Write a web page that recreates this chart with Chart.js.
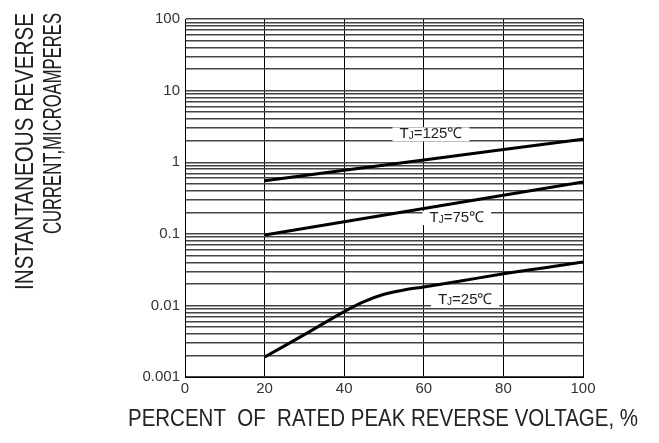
<!DOCTYPE html>
<html>
<head>
<meta charset="utf-8">
<script src="https://cdn.jsdelivr.net/npm/chart.js@4.4.0/dist/chart.umd.min.js"></script>
<style>
  html, body { margin: 0; padding: 0; background: #fff; }
  #wrap { width: 659px; height: 443px; }
</style>
</head>
<body>
<div id="wrap"><canvas id="chart" width="659" height="443"></canvas></div>
<script>
// reverse current vs. percent of rated peak reverse voltage (log y)
const xTickValues = [0, 20, 40, 60, 80, 100];
const yDecades = [0.001, 0.01, 0.1, 1, 10, 100];
const yDecadeLabels = ['0.001', '0.01', '0.1', '1', '10', '100'];

const temps = ['125', '75', '25'];

const voltLines = [20, 40, 60, 80, 100];
const current125 = [0.55, 0.77, 1.07, 1.5, 2.1];
const current75 = [0.096, 0.147, 0.226, 0.346, 0.53];

const volt25 = [20, 30, 40, 45, 50, 55, 60, 70, 80, 90, 100];
const current25 = [0.0019, 0.0039, 0.0082, 0.0113, 0.0143, 0.0164, 0.0181, 0.0223, 0.0276, 0.0334, 0.0404];

// where each curve's label sits (data coords)
const labelSpots = [
  { x: 61.8, y: 2.45 },
  { x: 68.3, y: 0.166 },
  { x: 70.4, y: 0.0119 }
];

const xTitle = 'PERCENT  OF  RATED PEAK REVERSE VOLTAGE, %';
const yTitle1 = 'INSTANTANEOUS REVERSE';
const yTitle2 = 'CURRENT,MICROAMPERES';

const FONT = '"Liberation Sans", Arial, sans-serif';

function pts(xs, ys){ return xs.map((x, i) => ({ x: x, y: ys[i] })); }

// minor log gridlines 1..9 per decade
function logGridTicks(){
  const out = [];
  for (let d = 0; d < yDecades.length - 1; d++) {
    for (let m = 1; m < 10; m++) out.push({ value: yDecades[d] * m });
  }
  out.push({ value: yDecades[yDecades.length - 1] });
  return out;
}

function drawSqueezed(ctx, text, width){
  const w = ctx.measureText(text).width;
  ctx.scale(width / w, 1);
  ctx.fillText(text, 0, 0);
}

const overlay = {
  id: 'overlay',
  afterDraw(chart){
    const ctx = chart.ctx;
    const xs = chart.scales.x, ys = chart.scales.y;

    // curve labels with white backing
    temps.forEach((t, i) => {
      const px = xs.getPixelForValue(labelSpots[i].x);
      const py = ys.getPixelForValue(labelSpots[i].y);
      ctx.save();
      ctx.font = '15px ' + FONT;
      const wT = ctx.measureText('T').width;
      const rest = '=' + t + '\u2103';
      const wR = ctx.measureText(rest).width;
      ctx.font = '10px ' + FONT;
      const wJ = ctx.measureText('J').width;
      const total = wT + wJ + wR;
      const left = px - total / 2;
      ctx.fillStyle = '#fff';
      ctx.fillRect(left - 7, py - 7, total + 14, 14);
      ctx.fillStyle = '#222';
      ctx.textBaseline = 'middle';
      ctx.font = '15px ' + FONT;
      ctx.fillText('T', left, py);
      ctx.font = '10px ' + FONT;
      ctx.fillText('J', left + wT, py + 2);
      ctx.font = '15px ' + FONT;
      ctx.fillText(rest, left + wT + wJ, py);
      ctx.restore();
    });

    ctx.save();
    ctx.fillStyle = '#222';
    ctx.textBaseline = 'alphabetic';
    ctx.textAlign = 'left';
    ctx.font = '25px ' + FONT;
    ctx.save();
    ctx.translate(33, 290);
    ctx.rotate(-Math.PI / 2);
    drawSqueezed(ctx, yTitle1, 277);
    ctx.restore();
    ctx.save();
    ctx.translate(61, 234);
    ctx.rotate(-Math.PI / 2);
    drawSqueezed(ctx, yTitle2, 221);
    ctx.restore();
    ctx.font = '23px ' + FONT;
    ctx.save();
    ctx.translate(128, 426);
    drawSqueezed(ctx, xTitle, 510);
    ctx.restore();
    ctx.restore();
  }
};

const lineStyle = {
  showLine: true,
  borderColor: '#000',
  borderWidth: 3,
  pointRadius: 0,
  fill: false
};

new Chart(document.getElementById('chart'), {
  type: 'scatter',
  data: {
    datasets: [
      Object.assign({ label: temps[0], data: pts(voltLines, current125) }, lineStyle),
      Object.assign({ label: temps[1], data: pts(voltLines, current75) }, lineStyle),
      Object.assign({ label: temps[2], data: pts(volt25, current25), cubicInterpolationMode: 'monotone' }, lineStyle)
    ]
  },
  options: {
    responsive: false,
    animation: false,
    devicePixelRatio: 1,
    layout: { padding: { left: 0, right: 76, top: 19, bottom: 0 } },
    plugins: { legend: { display: false }, tooltip: { enabled: false } },
    scales: {
      x: {
        type: 'linear',
        min: 0, max: 100,
        afterBuildTicks: s => { s.ticks = xTickValues.map(v => ({ value: v })); },
        afterFit: s => { s.height = 66; },
        grid: { color: '#000', lineWidth: 1, drawTicks: false },
        border: { color: '#000', width: 1 },
        ticks: { color: '#333', font: { size: 15, family: FONT }, padding: 3, maxRotation: 0, autoSkip: false }
      },
      y: {
        type: 'logarithmic',
        min: 0.001, max: 100,
        afterBuildTicks: s => { s.ticks = logGridTicks(); },
        afterFit: s => { s.width = 185; },
        grid: { color: '#444', lineWidth: 1.4, drawTicks: false },
        border: { color: '#000', width: 1 },
        ticks: {
          color: '#333', font: { size: 15, family: FONT }, padding: 5, autoSkip: false,
          callback: v => {
            const i = yDecades.findIndex(d => Math.abs(Math.log10(v) - Math.log10(d)) < 1e-6);
            return i >= 0 ? yDecadeLabels[i] : '';
          }
        }
      }
    }
  },
  plugins: [overlay]
});
</script>
</body>
</html>
